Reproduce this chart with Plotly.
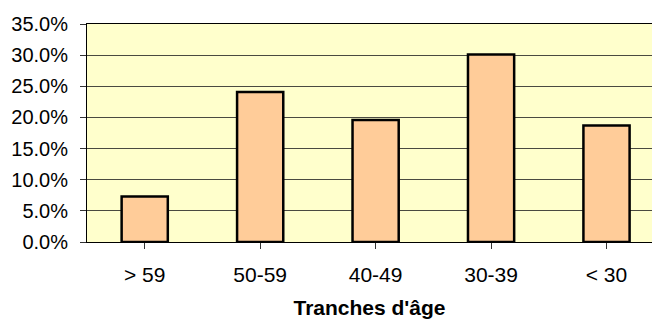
import plotly.graph_objects as go

categories = ["> 59", "50-59", "40-49", "30-39", "< 30"]
values = [0.073, 0.241, 0.196, 0.301, 0.187]
y_ticks = [0, 0.05, 0.10, 0.15, 0.20, 0.25, 0.30, 0.35]
x_title = "Tranches d'âge"

FONT = "Liberation Sans, Arial, sans-serif"

fig = go.Figure(go.Bar(
    x=list(range(len(categories))),
    y=values,
    marker=dict(color="#FFCC99", line=dict(color="black", width=2.5)),
    width=0.4,
    hoverinfo="skip",
))

fig.update_layout(
    width=652, height=319,
    margin=dict(l=87, r=0, t=24, b=77, autoexpand=False),
    paper_bgcolor="white",
    plot_bgcolor="#FFFFCC",
    showlegend=False,
    font=dict(family=FONT, size=20, color="black"),
)

fig.update_xaxes(
    range=[-0.5, 4.394],
    tickmode="array",
    tickvals=list(range(len(categories))),
    ticktext=categories,
    tickson="boundaries",
    ticks="outside", ticklen=6, tickcolor="#333333", tickwidth=1,
    showline=True, linecolor="black", linewidth=1, mirror=True,
    showgrid=False, zeroline=False,
    automargin=False,
    tickfont=dict(family=FONT, size=21, color="black"),
    ticklabelstandoff=8,
    title=dict(text="<b>" + x_title + "</b>", font=dict(family=FONT, size=21, color="black"), standoff=20),
)

fig.update_yaxes(
    range=[0, 0.35],
    tickmode="array",
    tickvals=y_ticks,
    tickformat=".1%",
    ticks="outside", ticklen=6, tickcolor="#333333", tickwidth=1,
    showline=True, linecolor="black", linewidth=1,
    showgrid=True, gridcolor="#4a4a40", gridwidth=1,
    zeroline=False,
    automargin=False,
    tickfont=dict(family=FONT, size=20, color="black"),
    ticklabelstandoff=8,
)

fig.write_html(
    "out.html",
    config={"displayModeBar": False, "staticPlot": True},
    post_script="document.body.style.margin='0';document.body.style.overflow='hidden';",
)
